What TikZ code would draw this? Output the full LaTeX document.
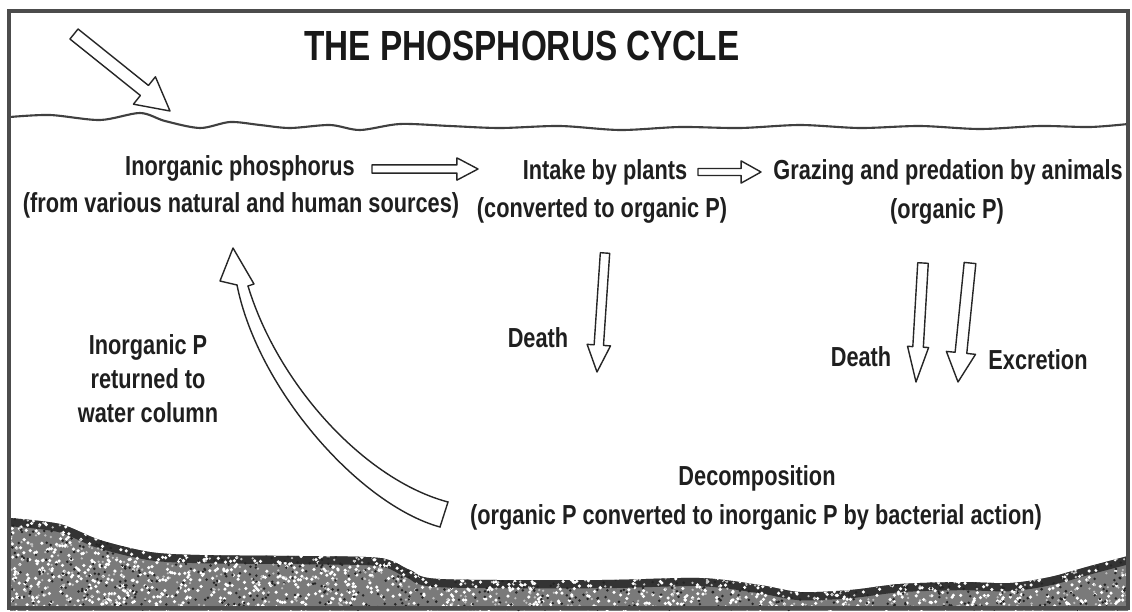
\documentclass[tikz,border=0pt]{standalone}
\usepackage{fontspec}
\setmainfont{Liberation Sans}[FakeStretch=0.79]
\usetikzlibrary{calc}
\newcommand{\blockarrow}[5]{%
  \coordinate (bacen) at ($(#2)!#5!(#1)$);
  \draw[blockline] ($(#1)!#3!90:(#2)$) -- ($(bacen)!#3!-90:(#1)$) -- ($(bacen)!#4!-90:(#1)$) -- (#2) -- ($(bacen)!#4!90:(#1)$) -- ($(bacen)!#3!90:(#1)$) -- ($(#1)!#3!-90:(#2)$) -- cycle;}
\begin{document}
\begin{tikzpicture}[x=0.03cm,y=-0.03cm,
  lbl/.style={font=\bfseries\fontsize{23.5}{29}\selectfont, align=center, inner sep=0pt, text=black!88},
  ttl/.style={font=\bfseries\fontsize{36}{40}\selectfont, inner sep=0pt, text=black!90},
  blockline/.style={draw=black!85, line width=1.2pt, fill=white, line join=round},
  edge/.style={draw=black!85, line width=1.2pt, line cap=round}]
\useasboundingbox (0,0) rectangle (1132,611);
\fill[white] (0,0) rectangle (1132,611);
% sediment
\begin{scope}
\clip (10,611) -- plot[smooth] coordinates {(10,518) (60,524) (100,540) (150,552) (200,555) (300,556) (380,558) (410,570) (440,579) (600,580) (700,578) (760,585) (800,592) (850,590) (900,584) (960,582) (1010,583) (1050,577) (1090,566) (1128,556)} -- (1128,611) -- cycle;
\fill[black!52] (0,500) rectangle (1132,611);
\draw[line width=14pt, black!80] plot[smooth] coordinates {(10,518) (60,524) (100,540) (150,552) (200,555) (300,556) (380,558) (410,570) (440,579) (600,580) (700,578) (760,585) (800,592) (850,590) (900,584) (960,582) (1010,583) (1050,577) (1090,566) (1128,556)};
\pgfmathsetseed{11}
\foreach \i in {1,...,2200}{\fill[white] ({10+1118*rnd},{515+95*rnd}) circle (1.5pt);}
\foreach \i in {1,...,1400}{\fill[black!85] ({10+1118*rnd},{515+95*rnd}) circle (1.2pt);}
\foreach \i in {1,...,900}{\fill[black!25] ({10+1118*rnd},{515+95*rnd}) circle (1.1pt);}
\end{scope}
% water surface
\draw[line width=1.8pt, black!75] plot[smooth] coordinates {(10,117) (50,115) (100,120) (140,113) (165,121) (200,128) (230,122) (260,125) (290,128) (330,125) (360,130) (400,124) (450,126) (500,128) (560,126) (620,130) (680,127) (740,128) (800,125) (860,128) (920,126) (980,129) (1040,126) (1090,127) (1128,124)};
% frame
\draw[line width=2.6pt, black!70] (9,11) rectangle (1128,608);
% labels
\node[ttl] (title) at (522,46) {THE PHOSPHORUS CYCLE};
\node[lbl] (inorg) at (240,168) {Inorganic phosphorus};
\node[lbl] (inorg2) at (241,205) {(from various natural and human sources)};
\node[lbl] (intake) at (605,172) {Intake by plants};
\node[lbl] (intake2) at (602,210) {(converted to organic P)};
\node[lbl] (graze) at (948,172) {Grazing and predation by animals};
\node[lbl] (graze2) at (947,211) {(organic P)};
\node[lbl] (ret) at (148,379) {Inorganic P\\returned to\\water column};
\node[lbl] (death1) at (538,338) {Death};
\node[lbl] (death2) at (861,357) {Death};
\node[lbl] (excr) at (1038,360) {Excretion};
\node[lbl] (decomp) at (757,478) {Decomposition};
\node[lbl] (decomp2) at (756,517) {(organic P converted to inorganic P by bacterial action)};
% arrow end points
\coordinate (t1) at (74,34);   \coordinate (t2) at (170,111);
\coordinate (a1s) at (372,169); \coordinate (a1e) at (478,169);
\coordinate (a2s) at (698,172); \coordinate (a2e) at (761,172);
\coordinate (d1s) at (605,253); \coordinate (d1e) at (597,372);
\coordinate (d2s) at (923,263); \coordinate (d2e) at (916,382);
\coordinate (exs) at (970,263); \coordinate (exe) at (958,382);
\blockarrow{t1}{t2}{5.5pt}{15pt}{28pt}
\blockarrow{a1s}{a1e}{3.5pt}{9.5pt}{18pt}
\blockarrow{a2s}{a2e}{3pt}{9.5pt}{17pt}
\blockarrow{d1s}{d1e}{4pt}{10pt}{23pt}
\blockarrow{d2s}{d2e}{4.5pt}{9pt}{30pt}
\blockarrow{exs}{exe}{5pt}{12.5pt}{25pt}
% curved return arrow
\coordinate (rl0) at (237,285); \coordinate (rr0) at (248,286);
\coordinate (rl1) at (440,527); \coordinate (rr1) at (448,502);
\coordinate (rhl) at (220,281); \coordinate (rhr) at (254,284);
\coordinate (rtip) at (233,248);
\draw[edge] (rl0) .. controls (258,390) and (360,505) .. (rl1) -- (rr1) .. controls (365,480) and (278,385) .. (rr0);
\draw[edge, line join=round] (rl0) -- (rhl) -- (rtip) -- (rhr) -- (rr0);
\end{tikzpicture}
\end{document}
